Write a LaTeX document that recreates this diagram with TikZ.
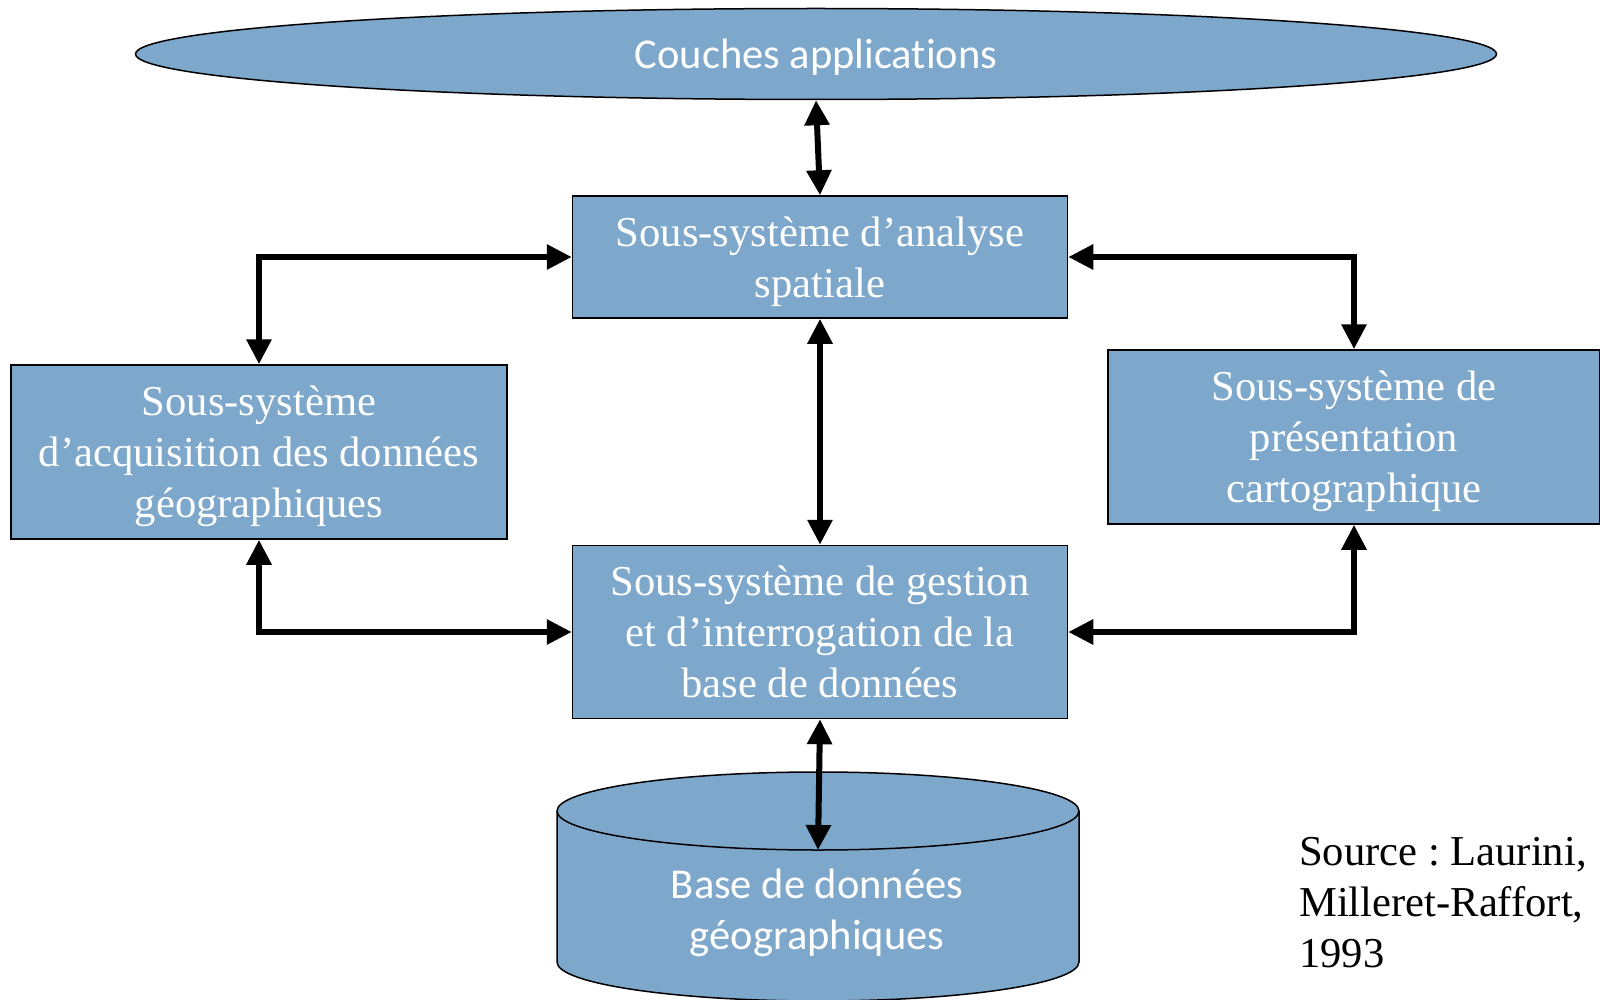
\documentclass[tikz,border=0pt]{standalone}
\usepackage{fontspec}
\setmainfont{Liberation Serif}
\newfontfamily\calibri[Ligatures=NoCommon]{Carlito}
\usepackage{xcolor}
\definecolor{bleu}{HTML}{7EA8CB}
\usepackage{tikz}
\usetikzlibrary{shapes.geometric,positioning,arrows.meta}
\frenchspacing

\begin{document}
\begin{tikzpicture}[x = 1pt, y = 1pt, node distance = 226pt, terminal/.style={
					rectangle, line width = 1.5pt, draw = black, fill = bleu,
					text = white, align = center, inner sep = 0pt, text depth = 0pt,
					font = \fontsize{42.6}{51}\selectfont},
				fleche/.style={{Triangle[length=25pt,width=24pt]}-{Triangle[length=25pt,width=24pt]},
					line width = 6pt}]
		\useasboundingbox (0,0) rectangle (1600,-1000);
		\node (A) [terminal, ellipse, minimum width = 1361pt, minimum height = 91pt,
			font = \calibri\fontsize{42.5}{51}\selectfont] at (816,-54) {Couches applications};
		\node (B) [terminal, minimum width = 495pt, minimum height = 122pt] at (820,-257) {Sous-système d’analyse\\spatiale};
		\node (C) [terminal, minimum width = 496pt, minimum height = 174pt] at (259,-452) {Sous-système\\d’acquisition des données\\géographiques};
		\node (CC) [terminal, minimum width = 492pt, minimum height = 174pt] at (1354,-437) {Sous-système de\\présentation\\cartographique};
		\node (D) [terminal, minimum width = 495pt, minimum height = 173pt, below=of B] {Sous-système de gestion\\et d’interrogation de la\\base de données};
		% base de donnees (cylindre)
		\filldraw[fill = bleu, line width = 1.5pt] (557,-811) -- (557,-962)
			arc[start angle = 180, end angle = 360, x radius = 261, y radius = 39] -- (1079,-811)
			arc[start angle = 0, end angle = 180, x radius = 261, y radius = 39] -- cycle;
		\draw[line width = 1.5pt] (557,-811) arc[start angle = 180, end angle = 360, x radius = 261, y radius = 39];
		\coordinate (EE) at (818,-850);
		\node (E) [text = white, align = center, inner sep = 0pt,
			font = \calibri\fontsize{42.5}{51}\selectfont] at (817,-913) {Base de données\\géographiques};
		\node (S) [align = left, inner sep = 0pt, anchor = west,
			font = \fontsize{42.6}{51}\selectfont] at (1299,-903) {Source : Laurini,\\Milleret-Raffort,\\1993};
		% liaisons
		\draw[fleche] (A.south) -- (B.north);
		\draw[fleche] (B.south) -- (D.north);
		\draw[fleche] (D.south) -- (EE);
		\draw[fleche] (B.west) -| (C.north);
		\draw[fleche] (B.east) -| (CC.north);
		\draw[fleche] (D.west) -| (C.south);
		\draw[fleche] (D.east) -| (CC.south);
	\end{tikzpicture}
\end{document}
